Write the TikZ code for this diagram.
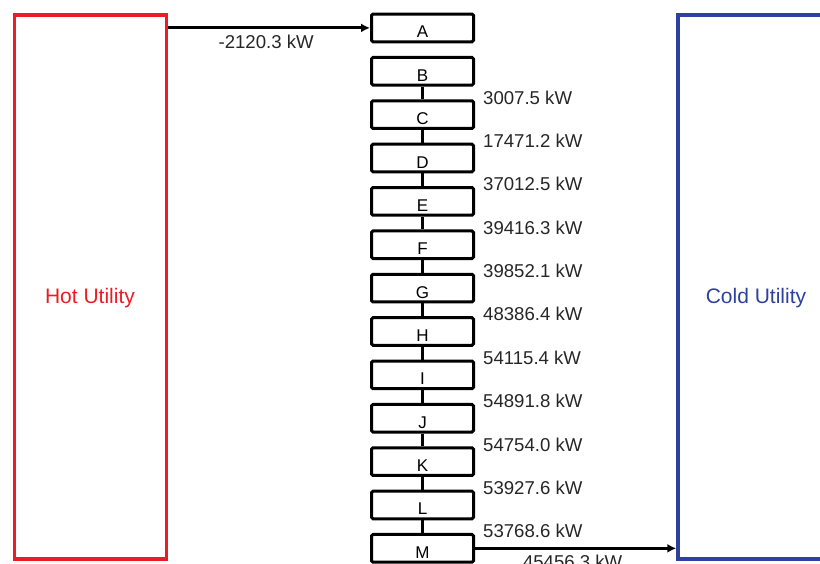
\documentclass[tikz,border=0pt]{standalone}
\usepackage{fontspec}
\setmainfont{Liberation Sans}
\usetikzlibrary{calc,arrows.meta}
\definecolor{hotred}{RGB}{237,28,36}
\definecolor{coldblue}{RGB}{46,64,160}
\begin{document}
\begin{tikzpicture}[x=1pt,y=-1pt,
  stage/.style={draw=black,line width=3pt,rounded corners=1.5pt,minimum width=102pt,minimum height=27.7pt,inner sep=0pt,text height=20pt,text depth=0pt,font=\fontsize{17}{17}\selectfont},
  util/.style={line width=3.5pt,minimum width=152pt,minimum height=544pt,inner sep=0pt},
  flow/.style={line width=3pt,-{Latex[length=9pt,width=9pt]}},
  link/.style={line width=3pt},
  heat/.style={font=\fontsize{18.6}{20}\selectfont,text=black!85,inner sep=0pt},
  ulabel/.style={font=\fontsize{21}{22}\selectfont,inner sep=0pt}]
\useasboundingbox (0,0) rectangle (820,563);
\clip (0,0) rectangle (820,563);
% utilities
\node[util,draw=hotred] (hot) at (90.5,287) {};
\node[util,draw=coldblue,minimum width=300pt] (cold) at (828,287) {};
\node[ulabel,text=hotred] (hotlbl) at (90,298) {Hot Utility};
\node[ulabel,text=coldblue] (coldlbl) at (756,298) {Cold Utility};
% stages
\foreach \n [count=\i from 0] in {A,B,C,D,E,F,G,H,I,J,K,L,M}
  \node[stage] (\n) at (422.5,27.9+\i*43.37) {\n};
% links and heat flows
\foreach \u/\l/\v in {B/C/3007.5,C/D/17471.2,D/E/37012.5,E/F/39416.3,F/G/39852.1,G/H/48386.4,H/I/54115.4,I/J/54891.8,J/K/54754.0,K/L/53927.6,L/M/53768.6}{
  \draw[link] (\u.south) -- (\l.north);
  \node[heat,anchor=west] (q\u) at ($(\u.south)!0.5!(\l.north)+(60.5,4.5)$) {\v\ kW};
}
% utility arrows
\coordinate (hotout) at (A.west -| hot.east);
\coordinate (coldin) at (M.east -| cold.west);
\draw[flow] (hotout) -- (A.west);
\draw[flow] (M.east) -- (coldin);
\node[heat] (qhot) at ($(hotout)!0.5!(A.west)+(-3,13.5)$) {-2120.3 kW};
\node[heat] (qcold) at ($(M.east)!0.5!(coldin)+(-3,13.5)$) {45456.3 kW};
\end{tikzpicture}
\end{document}
